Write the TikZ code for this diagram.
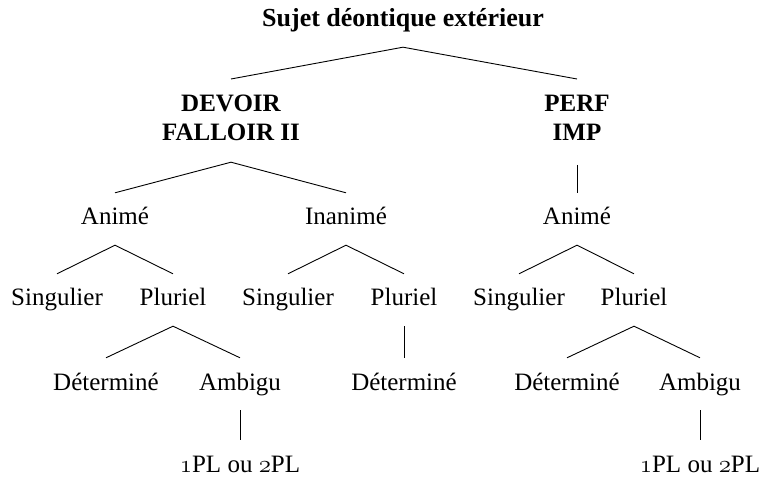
\documentclass[tikz,border=0pt]{standalone}
\usepackage{fontspec}
\setmainfont{Liberation Serif}
\begin{document}
\begin{tikzpicture}[x=1pt,y=-1pt,
  lbl/.style={font=\fontsize{25}{30}\selectfont, inner xsep=0pt, inner ysep=14pt,
              text height=18pt, text depth=6pt, anchor=base},
  rootlbl/.style={lbl, font=\fontsize{26}{30}\selectfont\bfseries},
  hd/.style={font=\fontsize{25}{29}\selectfont\bfseries, align=center, inner sep=0pt, anchor=north},
  br/.style={line width=0.9pt, black}]
\useasboundingbox (0,0) rectangle (763,478);

% level 1
\node[rootlbl] (root) at (403,27) {Sujet déontique extérieur};
% level 2
\node[hd] (dev) at (231,95) {DEVOIR\\FALLOIR II};
\node[hd] (perf) at (577,95) {PERF\\IMP};
% level 3
\node[lbl] (a1) at (115,225) {Animé};
\node[lbl] (in1) at (346,225) {Inanimé};
\node[lbl] (a2) at (577,225) {Animé};
% level 4
\node[lbl] (s1) at (57,306) {Singulier};
\node[lbl] (p1) at (173,306) {Pluriel};
\node[lbl] (s2) at (288,306) {Singulier};
\node[lbl] (p2) at (404,306) {Pluriel};
\node[lbl] (s3) at (519,306) {Singulier};
\node[lbl] (p3) at (634,306) {Pluriel};
% level 5
\node[lbl] (d1) at (106,390) {Déterminé};
\node[lbl] (m1) at (240,390) {Ambigu};
\node[lbl] (d2) at (404,390) {Déterminé};
\node[lbl] (d3) at (567,390) {Déterminé};
\node[lbl] (m2) at (700,390) {Ambigu};
% level 6
\node[lbl] (n1) at (240,472) {$\mathnormal{1}$PL ou $\mathnormal{2}$PL};
\node[lbl] (n2) at (700,472) {$\mathnormal{1}$PL ou $\mathnormal{2}$PL};

% connectors
\draw[br] ([yshift=16pt]dev.north) -- (root.south) -- ([yshift=16pt]perf.north);
\draw[br] (a1.north) -- ([yshift=-21pt]dev.south) -- (in1.north);
\draw[br] ([yshift=-24pt]perf.south) -- (a2.north);
\draw[br] (s1.north) -- (a1.south) -- (p1.north);
\draw[br] (s2.north) -- (in1.south) -- (p2.north);
\draw[br] (s3.north) -- (a2.south) -- (p3.north);
\draw[br] (d1.north) -- (p1.south) -- (m1.north);
\draw[br] (p2.south) -- (d2.north);
\draw[br] (d3.north) -- (p3.south) -- (m2.north);
\draw[br] (m1.south) -- (n1.north);
\draw[br] (m2.south) -- (n2.north);
\end{tikzpicture}
\end{document}
